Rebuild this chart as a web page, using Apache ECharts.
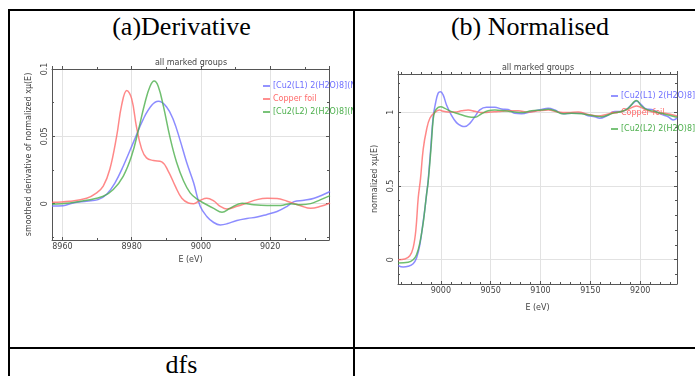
<!DOCTYPE html>
<html>
<head>
<meta charset="utf-8">
<script src="https://cdn.jsdelivr.net/npm/echarts@6/dist/echarts.min.js"></script>
<style>
html,body{margin:0;padding:0;background:#fff;width:695px;height:376px;overflow:hidden;position:relative;}
.ln{position:absolute;background:#000;}
.hd{position:absolute;text-align:center;font-family:"Liberation Serif","Times New Roman",serif;font-size:26px;color:#000;line-height:28px;}
.ch{position:absolute;}
</style>
</head>
<body>
<div class="ln" style="left:8px;top:9px;width:700px;height:2px"></div>
<div class="ln" style="left:8px;top:9px;width:2px;height:380px"></div>
<div class="ln" style="left:353px;top:9px;width:2px;height:380px"></div>
<div class="ln" style="left:8px;top:347px;width:700px;height:2px"></div>
<div class="hd" id="h1" style="left:10px;top:13px;width:343px"></div>
<div class="hd" id="h2" style="left:355px;top:13px;width:350px"></div>
<div class="hd" id="h3" style="left:10px;top:351px;width:343px"></div>
<div class="ch" id="c1" style="left:10px;top:40px;width:343px;height:300px"></div>
<div class="ch" id="c2" style="left:356px;top:40px;width:339px;height:300px"></div>
<script>
// ---- header texts ----
const headers = ["(a)Derivative", "(b) Normalised", "dfs"];
const chartTitle = "all marked groups";
const seriesNames = ["[Cu2(L1) 2(H2O)8](NO3)2", "Copper foil", "[Cu2(L2) 2(H2O)8](NO3)2"];
const seriesColors = ["#6f6fff", "#ff6a6a", "#4caf4c"];

// ---- (a) derivative data ----
const derivBlueE = [8957.0, 8960.2, 8963.1, 8967.0, 8970.3, 8972.8, 8975.2, 8977.6, 8980.5, 8983.4, 8985.8, 8987.7, 8990.1, 8992.1, 8994.0, 8995.9, 8997.9, 8999.8, 9001.7, 9003.7, 9005.6, 9007.5, 9010.4, 9013.3, 9016.2, 9019.1, 9022.0, 9024.9, 9026.9, 9029.8, 9032.7, 9037.3];
const derivBlueV = [-0.0018, -0.0015, 0.0005, 0.0018, 0.003, 0.007, 0.0155, 0.028, 0.0455, 0.063, 0.073, 0.076, 0.0718, 0.062, 0.047, 0.0305, 0.0155, -0.002, -0.0095, -0.014, -0.0158, -0.015, -0.0125, -0.011, -0.010, -0.008, -0.0058, -0.002, 0.0015, 0.0025, 0.004, 0.009];
const derivRedE = [8957.0, 8962.1, 8967.0, 8969.9, 8971.8, 8973.7, 8975.7, 8977.1, 8978.6, 8980.0, 8981.4, 8982.9, 8984.3, 8986.3, 8988.7, 8990.6, 8992.6, 8994.5, 8996.4, 8997.9, 8999.8, 9001.7, 9003.7, 9005.6, 9007.5, 9010.4, 9013.3, 9016.2, 9019.1, 9022.0, 9024.9, 9028.8, 9031.7, 9034.6, 9037.3];
const derivRedV = [0.001, 0.0018, 0.004, 0.008, 0.013, 0.0255, 0.0505, 0.073, 0.084, 0.078, 0.057, 0.0405, 0.034, 0.032, 0.031, 0.024, 0.013, 0.004, 0.0005, 0.0, 0.0025, 0.004, 0.002, -0.002, -0.004, -0.002, 0.0005, 0.003, 0.004, 0.0038, 0.0018, -0.0015, -0.0035, -0.002, 0.0005];
const derivGreenE = [8957.0, 8962.1, 8967.0, 8971.8, 8974.7, 8977.6, 8980.0, 8981.9, 8983.9, 8985.3, 8986.5, 8987.7, 8989.2, 8991.1, 8993.0, 8995.0, 8996.9, 8998.8, 9001.7, 9003.7, 9006.1, 9008.5, 9011.9, 9015.3, 9019.1, 9023.0, 9025.9, 9028.8, 9031.7, 9034.6, 9037.3];
const derivGreenV = [-0.0005, 0.0005, 0.0025, 0.0055, 0.0105, 0.0205, 0.0355, 0.054, 0.0755, 0.087, 0.091, 0.087, 0.072, 0.049, 0.0305, 0.0168, 0.008, 0.0035, -0.0008, -0.0035, -0.0063, -0.0033, 0.0003, -0.0008, -0.0013, -0.0013, 0, -0.0008, 0, 0.003, 0.006];

// ---- (b) normalised data ----
const normBlueE = [8957.2, 8962.2, 8967.2, 8972.2, 8975.6, 8978.9, 8982.3, 8983.9, 8985.6, 8987.3, 8990.0, 8992.3, 8994.6, 8997.3, 8999.7, 9002.3, 9005.7, 9010.7, 9015.7, 9020.7, 9024.1, 9029.1, 9034.1, 9039.1, 9045.8, 9054.2, 9060.9, 9067.6, 9074.2, 9080.9, 9091.0, 9101.0, 9107.7, 9114.4, 9122.7, 9131.1, 9141.1, 9147.8, 9154.5, 9159.5, 9166.2, 9174.6, 9181.3, 9186.3, 9191.3, 9196.3, 9201.3, 9206.4, 9211.4, 9216.4, 9221.4, 9228.1, 9233.1, 9237.1];
const normBlueV = [-0.04, -0.05, -0.045, -0.027, 0.011, 0.1, 0.26, 0.34, 0.44, 0.54, 0.77, 0.97, 1.06, 1.13, 1.14, 1.118, 1.05, 0.98, 0.93, 0.907, 0.903, 0.925, 0.97, 1.016, 1.034, 1.034, 1.023, 1.02, 0.993, 0.99, 1.005, 1.02, 1.027, 1.016, 0.99, 0.993, 0.993, 0.977, 0.97, 0.96, 0.975, 1.005, 1.005, 1.02, 1.05, 1.077, 1.05, 1.023, 1.02, 1.005, 0.986, 0.97, 0.948, 0.96];
const normRedE = [8957.2, 8963.9, 8968.9, 8972.2, 8974.9, 8977.3, 8979.6, 8982.3, 8985.6, 8989.0, 8994.0, 8999.0, 9000.7, 9007.4, 9014.0, 9020.7, 9027.4, 9034.1, 9040.8, 9047.5, 9057.5, 9067.6, 9077.6, 9087.6, 9097.7, 9107.7, 9117.7, 9127.8, 9137.8, 9147.8, 9157.9, 9167.9, 9177.9, 9188.0, 9196.3, 9204.7, 9214.7, 9224.7, 9237.1];
const normRedV = [0.0, 0.005, 0.027, 0.08, 0.2, 0.42, 0.55, 0.75, 0.88, 0.96, 1.0, 1.015, 1.01, 1.002, 1.002, 1.01, 1.016, 1.007, 0.998, 1.0, 1.005, 1.01, 1.01, 1.002, 1.01, 1.016, 1.002, 0.998, 1.002, 0.986, 0.975, 0.989, 1.0, 1.02, 1.043, 1.02, 0.998, 0.993, 0.975];
const normGreenE = [8957.2, 8967.2, 8972.2, 8975.6, 8978.9, 8982.3, 8983.9, 8985.6, 8987.3, 8990.0, 8992.3, 8994.0, 8997.3, 9000.0, 9004.0, 9010.7, 9017.4, 9027.4, 9034.1, 9040.8, 9047.5, 9054.2, 9064.2, 9074.2, 9080.9, 9091.0, 9101.0, 9107.7, 9114.4, 9122.7, 9131.1, 9141.1, 9154.5, 9161.2, 9167.9, 9174.6, 9181.3, 9188.0, 9196.3, 9201.3, 9206.4, 9214.7, 9221.4, 9228.1, 9234.8, 9237.1];
const normGreenV = [-0.023, -0.018, 0.0, 0.034, 0.113, 0.25, 0.34, 0.44, 0.53, 0.744, 0.95, 1.005, 1.034, 1.038, 1.027, 1.005, 0.99, 0.97, 0.966, 0.99, 1.01, 1.016, 1.01, 1.002, 0.998, 1.01, 1.016, 1.02, 1.01, 0.99, 0.993, 0.99, 0.975, 0.97, 0.982, 0.998, 1.005, 1.027, 1.08, 1.043, 1.02, 1.005, 0.993, 0.982, 0.97, 0.968];

// axis labels
const derivXName = "E (eV)";
const derivYName = "smoothed derivative of normalized xμ(E)";
const normXName = "E (eV)";
const normYName = "normalized xμ(E)";

document.getElementById('h1').textContent = headers[0];
document.getElementById('h2').textContent = headers[1];
document.getElementById('h3').textContent = headers[2];

const zip = (a, b) => a.map((x, i) => [x, b[i]]);
const FONT = "DejaVu Sans";
const TXT = "#444";
const AX = "#555";

function makeOption(cfg) {
  const lineCommon = {show: true, onZero: false, lineStyle: {color: AX, width: 1}};
  const tickIn = {show: true, inside: true, length: 3, lineStyle: {color: AX}};
  // in this ECharts build, a top axis draws 'inside' ticks upward, so flip it
  const tickTop = {show: true, inside: false, length: 3, lineStyle: {color: AX}};
  const labelBase = {fontFamily: FONT, fontSize: 8, color: TXT};
  const minorX = {show: true, splitNumber: cfg.minorX, length: 2, lineStyle: {color: AX}};
  const minorY = {show: true, splitNumber: cfg.minorY, length: 2, lineStyle: {color: AX}};
  const xBottom = {
    type: 'value', position: 'bottom', min: cfg.xMin, max: cfg.xMax, splitNumber: cfg.xSplit,
    axisLine: lineCommon, axisTick: tickIn, minorTick: minorX,
    splitLine: {show: true, lineStyle: {color: '#e2e2e2', width: 1}},
    name: cfg.xName, nameLocation: 'middle', nameGap: cfg.xNameGap,
    nameTextStyle: labelBase,
    axisLabel: Object.assign({}, labelBase, {margin: cfg.xLabelMargin, showMinLabel: false, showMaxLabel: false,
      formatter: v => String(v)})
  };
  const xTop = {
    type: 'value', position: 'top', min: cfg.xMin, max: cfg.xMax, splitNumber: cfg.xSplit,
    axisLine: lineCommon, axisTick: tickTop, minorTick: minorX,
    axisLabel: {show: false}, splitLine: {show: false}
  };
  const yLeft = {
    type: 'value', position: 'left', min: cfg.yMin, max: cfg.yMax, splitNumber: cfg.ySplit,
    axisLine: lineCommon, axisTick: tickIn, minorTick: minorY,
    splitLine: {show: true, lineStyle: {color: '#e2e2e2', width: 1}},
    name: cfg.yName, nameLocation: 'middle', nameGap: cfg.yNameGap, nameRotate: 90,
    nameTextStyle: labelBase,
    axisLabel: Object.assign({}, labelBase, {rotate: 90, margin: cfg.yLabelMargin,
      showMinLabel: false, showMaxLabel: cfg.yShowMax,
      formatter: v => (Math.abs(v) < 1e-9 ? '0' : String(+v.toFixed(4)))})
  };
  const yRight = {
    type: 'value', position: 'right', min: cfg.yMin, max: cfg.yMax, splitNumber: cfg.ySplit,
    axisLine: lineCommon, axisTick: tickIn, minorTick: minorY,
    axisLabel: {show: false}, splitLine: {show: false}
  };
  return {
    animation: false,
    title: {text: chartTitle, left: cfg.titleX, top: cfg.titleY, textAlign: 'center', padding: 0,
      textStyle: {fontFamily: FONT, fontSize: 8, fontWeight: 'normal', color: TXT}},
    legend: {
      orient: 'vertical', left: cfg.legLeft, top: cfg.legTop, icon: 'rect', padding: 0,
      itemWidth: 7, itemHeight: 1.5, itemGap: cfg.legGap,
      textStyle: {fontFamily: FONT, fontSize: 8, lineHeight: 10, padding: [0, 0, 0, -2]},
      data: seriesNames.map((n, i) => ({name: n, textStyle: {color: seriesColors[i]}})),
      selectedMode: false
    },
    grid: {left: cfg.gl, top: cfg.gt, width: cfg.gw, height: cfg.gh, show: false},
    xAxis: [xBottom, xTop],
    yAxis: [yLeft, yRight],
    series: cfg.data.map((d, i) => ({
      name: seriesNames[i], type: 'line', data: d, smooth: 0.4, showSymbol: false,
      lineStyle: {color: seriesColors[i], width: 1.5, opacity: 0.8},
      itemStyle: {color: seriesColors[i]}, z: [2, 3, 4][i]
    }))
  };
}

const c1 = echarts.init(document.getElementById('c1'), null, {renderer: 'canvas'});
c1.setOption(makeOption({
  xMin: 8957, xMax: 9037, xSplit: 4, minorX: 2,
  yMin: -0.027, yMax: 0.1, ySplit: 3, minorY: 2, yShowMax: true,
  xName: derivXName, yName: derivYName,
  xNameGap: 15, xLabelMargin: 3, yNameGap: 19, yLabelMargin: 3,
  titleX: 181, titleY: 19,
  legLeft: 253, legTop: 41, legGap: 3,
  gl: 42, gt: 29, gw: 277, gh: 171,
  data: [zip(derivBlueE, derivBlueV), zip(derivRedE, derivRedV), zip(derivGreenE, derivGreenV)]
}));

const c2 = echarts.init(document.getElementById('c2'), null, {renderer: 'canvas'});
c2.setOption(makeOption({
  xMin: 8957, xMax: 9237, xSplit: 6, minorX: 5,
  yMin: -0.165, yMax: 1.26, ySplit: 3, minorY: 5, yShowMax: false,
  xName: normXName, yName: normYName,
  xNameGap: 20, xLabelMargin: 3, yNameGap: 18, yLabelMargin: 3,
  titleX: 182, titleY: 24,
  legLeft: 255, legTop: 51, legGap: 6.5,
  gl: 42, gt: 34, gw: 279, gh: 210,
  data: [zip(normBlueE, normBlueV), zip(normRedE, normRedV), zip(normGreenE, normGreenV)]
}));
</script>
</body>
</html>
